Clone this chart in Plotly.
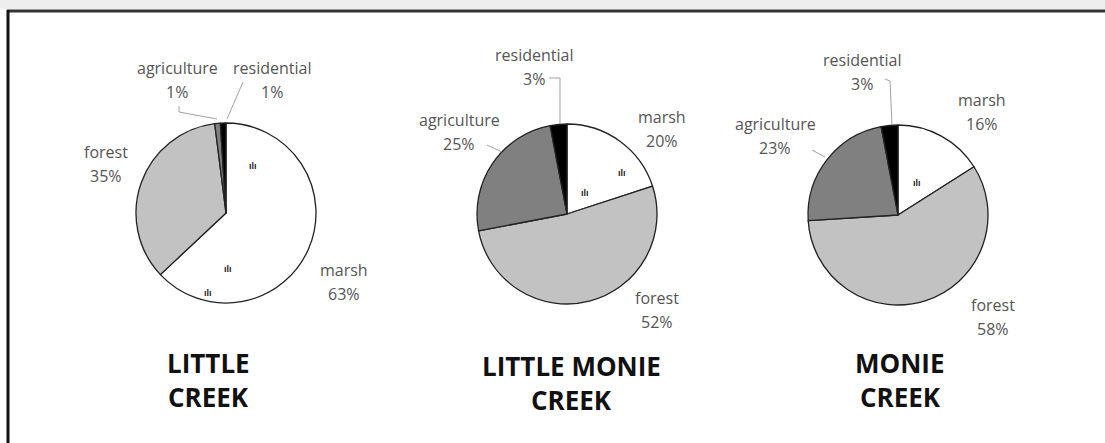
import plotly.graph_objects as go

# land use shares (%)
categories = ["marsh", "forest", "agriculture", "residential"]
little_creek = [63, 35, 1, 1]
little_monie_creek = [20, 52, 25, 3]
monie_creek = [16, 58, 23, 3]

sites = [["LITTLE", "CREEK"], ["LITTLE MONIE", "CREEK"], ["MONIE", "CREEK"]]
values = [little_creek, little_monie_creek, monie_creek]
slice_colors = ["#ffffff", "#c2c2c2", "#808080", "#000000"]

W, H = 1105, 443


def px(x):
    return x / W


def py(y):
    return 1 - y / H


# pie centres / radius in pixels
centres = [(226, 213), (567, 214), (898, 215)]
R = 90

# where each label sits (name line) in pixels
label_pos = [
    {"marsh": (344, 270), "forest": (106, 152), "agriculture": (177, 68), "residential": (272, 68)},
    {"marsh": (662, 117), "forest": (657, 298), "agriculture": (459, 120), "residential": (534, 55)},
    {"marsh": (982, 100), "forest": (993, 305), "agriculture": (775, 124), "residential": (862, 60)},
]
leaders = [
    [[(179, 106), (179, 112), (217, 119)], [(243, 82), (227, 119)]],
    [[(549, 78), (560, 78), (560, 124)], [(487, 145), (502, 152)]],
    [[(885, 79), (890, 81), (892, 125)], [(812, 150), (825, 157)]],
]
title_pos = [(208, 363), (571, 366), (900, 363)]
marsh_marks = [[(253, 166), (228, 269), (208, 293)], [(622, 173), (585, 193)], [(917, 183)]]

fig = go.Figure()
for i, vals in enumerate(values):
    cx, cy = centres[i]
    fig.add_trace(go.Pie(
        labels=categories, values=vals, sort=False, direction="clockwise", rotation=0,
        marker=dict(colors=slice_colors, line=dict(color="#222222", width=1.3)),
        textinfo="none", hoverinfo="label+percent", showlegend=False,
        domain=dict(x=[px(cx - R), px(cx + R)], y=[py(cy + R), py(cy - R)]),
    ))

ann = []
lab_font = dict(family="Open Sans", size=16, color="#555555")
for i, vals in enumerate(values):
    for cat, v in zip(categories, vals):
        x, y = label_pos[i][cat]
        ann.append(dict(x=px(x), y=py(y), xref="paper", yref="paper", text=cat,
                        showarrow=False, font=lab_font, xanchor="center", yanchor="middle"))
        ann.append(dict(x=px(x), y=py(y + 24), xref="paper", yref="paper", text="%d%%" % v,
                        showarrow=False, font=lab_font, xanchor="center", yanchor="middle"))
    tx, ty = title_pos[i]
    for k, line in enumerate(sites[i]):
        ann.append(dict(x=px(tx), y=py(ty + 34 * k), xref="paper", yref="paper",
                        text="<b>%s</b>" % line, showarrow=False,
                        font=dict(family="Open Sans", size=26, color="#111111"),
                        xanchor="center", yanchor="middle"))
    for (mx, my) in marsh_marks[i]:
        ann.append(dict(x=px(mx), y=py(my), xref="paper", yref="paper", text="<b>ılı</b>",
                        showarrow=False, font=dict(family="Liberation Sans", size=9, color="#222222"),
                        xanchor="center", yanchor="middle"))

shapes = []
for group in leaders:
    for pts in group:
        path = "M " + " L ".join("%f,%f" % (px(a), py(b)) for a, b in pts)
        shapes.append(dict(type="path", xref="paper", yref="paper", path=path,
                           line=dict(color="#888888", width=0.8)))
# frame
shapes.append(dict(type="rect", xref="paper", yref="paper", x0=0, x1=1, y0=py(9), y1=1,
                   fillcolor="#eeeeee", line=dict(width=0), layer="below"))
shapes.append(dict(type="line", xref="paper", yref="paper", x0=px(7), x1=1, y0=py(11), y1=py(11),
                   line=dict(color="#333333", width=3)))
shapes.append(dict(type="line", xref="paper", yref="paper", x0=px(8), x1=px(8), y0=0, y1=py(10),
                   line=dict(color="#111111", width=3)))

fig.update_layout(
    width=W, height=H, margin=dict(l=0, r=0, t=0, b=0),
    paper_bgcolor="white", plot_bgcolor="white",
    annotations=ann, shapes=shapes,
)

fig.write_html("out.html", config={"displayModeBar": False},
               post_script="document.body.style.margin='0px';")
